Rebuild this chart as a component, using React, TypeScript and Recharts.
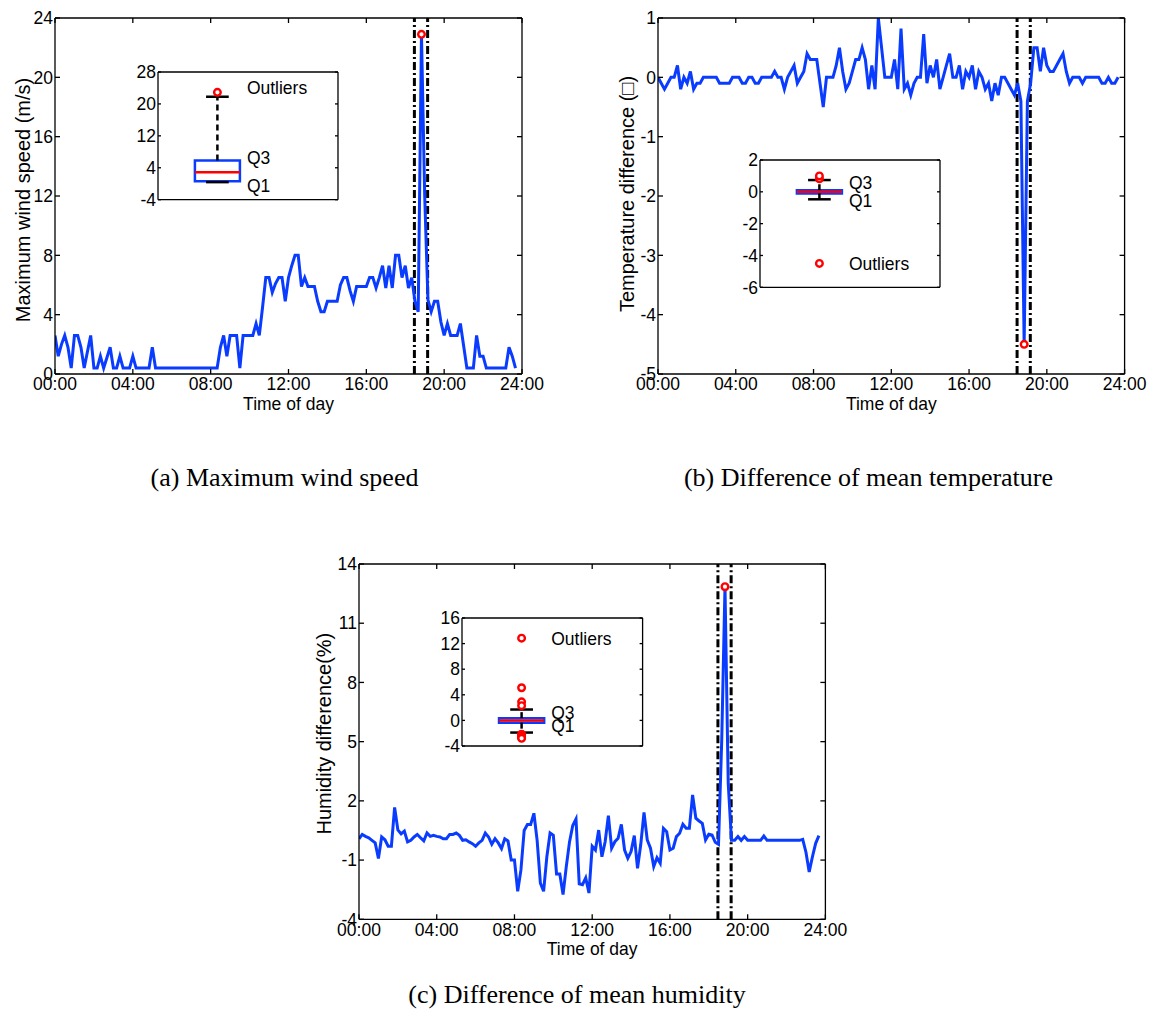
import React from "react";
import { ComposedChart, Line, XAxis, YAxis, ReferenceLine, ReferenceDot, ReferenceArea } from "recharts";

const SANS = '"Liberation Sans", Arial, sans-serif';
const SERIF = '"Liberation Serif", "Times New Roman", serif';
const BLUE = "#0a3cff";
const RED = "#ff0000";
const FS = 17.5;

// time axis (hours), one sample every 10 minutes
const hourTicks = [0, 4, 8, 12, 16, 20, 24];
const eventWindow = [18.47, 19.15];

// (a) maximum wind speed, m/s
const windSpeed = [
  2.6, 1.2, 2.0, 2.6, 1.8, 0.4, 2.6, 2.6, 1.8, 0.4,
  1.5, 2.6, 0.4, 0.4, 1.2, 0.4, 1.1, 1.8, 0.4, 0.4,
  1.2, 0.4, 0.4, 0.4, 1.2, 0.4, 0.4, 0.4, 0.4, 0.4,
  1.8, 0.4, 0.4, 0.4, 0.4, 0.4, 0.4, 0.4, 0.4, 0.4,
  0.4, 0.4, 0.4, 0.4, 0.4, 0.4, 0.4, 0.4, 0.4, 0.4,
  0.4, 1.8, 2.6, 1.2, 2.6, 2.6, 2.6, 0.4, 2.6, 2.6,
  2.6, 2.6, 3.4, 2.6, 4.5, 6.5, 6.5, 5.5, 6.1, 6.5,
  6.5, 4.9, 6.5, 7.3, 8.0, 8.0, 5.9, 6.5, 5.9, 5.9,
  5.9, 4.9, 4.2, 4.2, 4.9, 4.9, 4.9, 4.9, 6.0, 6.5,
  6.5, 5.6, 4.9, 5.9, 5.9, 5.9, 5.9, 6.5, 6.5, 5.8,
  6.5, 7.3, 5.8, 7.3, 5.8, 8.0, 8.0, 6.5, 7.3, 5.8,
  6.5, 4.9, 4.2, 22.9, 12.0, 5.0, 4.2, 4.9, 4.9, 3.5,
  2.6, 3.4, 2.6, 2.6, 2.6, 3.4, 1.9, 0.4, 0.4, 0.4,
  2.6, 1.2, 1.2, 0.4, 0.4, 0.4, 0.4, 0.4, 0.4, 0.4,
  1.8, 1.2, 0.4,
];

// (b) difference of mean temperature
const tempDiff = [
  0, -0.1, -0.2, -0.1, 0, 0, 0.2, -0.2, 0, -0.1,
  0.1, -0.2, -0.1, -0.1, 0, 0, 0, 0, 0, -0.1,
  -0.1, -0.1, -0.1, 0, 0, 0, -0.1, -0.1, 0, 0,
  -0.1, -0.1, 0, 0, 0, 0, 0.1, 0, 0, -0.2,
  0, 0.1, 0.2, -0.1, 0, 0.1, 0.4, 0.3, 0.3, 0.3,
  -0.1, -0.5, 0, 0, 0, 0.2, 0.5, 0.1, -0.2, -0.1,
  0.1, 0.3, 0.3, 0.5, 0.3, -0.2, 0.2, -0.2, 1.0, 0.5,
  0, 0, 0, 0.3, -0.2, 0.82, -0.2, -0.1, -0.3, -0.1,
  0, 0, 0.73, -0.1, 0.2, 0, 0.3, -0.2, 0, 0.2,
  0.4, 0, 0, 0.2, -0.2, 0.1, 0, 0.2, -0.2, 0.1,
  0, -0.2, -0.1, -0.4, -0.1, -0.3, 0, 0, -0.1, -0.2,
  -0.3, -0.1, -0.4, -4.5, -0.4, -0.1, 0.5, 0.5, 0.1, 0.5,
  0.2, 0.1, 0.1, 0.2, 0.3, 0.4, 0.1, -0.1, 0, 0,
  0, -0.1, 0, 0, 0, 0, 0, -0.1, -0.1, 0,
  -0.1, -0.1, 0,
];

// (c) difference of mean humidity, %
const humidDiff = [
  0.08, 0.3, 0.2, 0.13, 0, -0.13, -0.92, 0.17, 0.03, -0.3,
  -0.3, 1.67, 0.53, 0.33, 0.47, -0.08, 0, 0.17, 0.3, 0.13,
  -0.03, 0.37, 0.2, 0.25, 0.2, 0.17, 0.08, 0.08, 0.3, 0.3,
  0.37, 0.25, 0, 0.03, -0.08, -0.17, -0.3, -0.13, 0, 0.37,
  0.17, -0.2, 0.08, -0.13, -0.42, 0.08, -0.03, -1, -1, -2.58,
  -1.5, 0.5, 0.8, 0.8, 1.37, 0, -2.17, -2.58, -0.83, 0.37,
  0.25, -1.7, -1.7, -2.75, -1.33, -0.08, 0.75, 1.08, -2.2, -2.25,
  -1.9, -2.67, -0.3, -0.49, 0.52, -0.83, -0.07, 1.25, -0.4, -0.07,
  0.1, 0.81, -0.49, -0.91, -0.57, 0.24, -1.42, -0.2, 1.42, 0.02,
  -0.4, -1.33, -0.88, -1.16, 0.61, 0.44, -0.49, -0.4, 0.19, 0.36,
  0.81, 0.61, 0.61, 2.3, 1.12, 0.98, 0.86, 0.02, 0.31, 0.27,
  -0.1, -0.2, 5.1, 12.85, 2.9, 0, 0, 0.19, 0, 0.19,
  0, 0, 0, 0, 0, 0.22, 0, 0, 0, 0,
  0, 0, 0, 0, 0, 0, 0, 0.05, -0.6, -1.6,
  -0.83, -0.15, 0.24,
];

const windTicks = [0, 4, 8, 12, 16, 20, 24];
const tempTicks = [-5, -4, -3, -2, -1, 0, 1];
const humidTicks = [-4, -1, 2, 5, 8, 11, 14];

// boxplot stats: [lower whisker, Q1, median, Q3, upper whisker]
const windBox = [0.4, 0.6, 2.85, 5.85, 21.8];
const windOutliers = [22.9];
const windInsetTicks = [-4, 4, 12, 20, 28];

const tempBox = [-0.47, -0.1, 0, 0.1, 0.74];
const tempOutliers = [0.82, 1.0, -4.5];
const tempInsetTicks = [-6, -4, -2, 0, 2];

const humidBox = [-1.9, -0.35, 0, 0.35, 1.7];
const humidOutliers = [12.85, 5.1, 2.9, 2.3, -2.17, -2.25, -2.4, -2.58, -2.68, -2.8];
const humidInsetTicks = [-4, 0, 4, 8, 12, 16];

const fmtHour = (h: number) => `${String(h).padStart(2, "0")}:00`;
const blank = () => "";
const tickStyle = { fill: "#000", fontSize: FS, fontFamily: SANS };

const PAD = { l: 70, t: 15, r: 35, b: 55 };

function MainPanel({ x, y, w, h, values, yDomain, yTicks, yLabel, yLabelGap, yLabelShift }: any) {
  const data = values.map((v: number, i: number) => ({ t: i / 6, v }));
  // the flagged point is the one furthest from zero
  const peak = values.reduce((best: number, v: number, i: number) => (Math.abs(v) > Math.abs(values[best]) ? i : best), 0);

  return (
    <div style={{ position: "absolute", left: x - PAD.l, top: y - PAD.t }}>
      <ComposedChart width={w + PAD.l + PAD.r} height={h + PAD.t + PAD.b} data={data} margin={{ top: PAD.t - 1, right: PAD.r - 1, bottom: 0, left: 0 }}>
        <XAxis
          dataKey="t" type="number" domain={[0, 24]} ticks={hourTicks} interval={0} allowDataOverflow
          tickFormatter={fmtHour} height={PAD.b} tickSize={-5} tickMargin={9}
          stroke="#000" strokeWidth={1.3} tick={tickStyle}
          label={(p: any) => (
            <text x={p.viewBox.x + p.viewBox.width / 2} y={p.viewBox.y + 30} textAnchor="middle" dominantBaseline="central" fontSize={FS} fontFamily={SANS} fill="#000">
              Time of day
            </text>
          )}
        />
        <XAxis xAxisId="top" orientation="top" dataKey="t" type="number" domain={[0, 24]} ticks={hourTicks} interval={0} allowDataOverflow
          height={1} tickSize={-5} tickFormatter={blank} stroke="#000" strokeWidth={1.3} />
        <YAxis
          type="number" domain={yDomain} ticks={yTicks} interval={0} allowDataOverflow width={PAD.l}
          tickSize={-5} tickMargin={7} stroke="#000" strokeWidth={1.3} tick={tickStyle}
          label={(p: any) => {
            const cx = p.viewBox.x + p.viewBox.width - yLabelGap;
            const cy = p.viewBox.y + p.viewBox.height / 2 + yLabelShift;
            return (
              <text x={cx} y={cy} transform={`rotate(-90, ${cx}, ${cy})`} textAnchor="middle" dominantBaseline="central" fontSize={20} fontFamily={SANS} fill="#000">
                {yLabel}
              </text>
            );
          }}
        />
        <YAxis yAxisId="right" orientation="right" type="number" domain={yDomain} ticks={yTicks} interval={0} allowDataOverflow
          width={1} tickSize={-5} tickFormatter={blank} stroke="#000" strokeWidth={1.3} />
        {eventWindow.map((t) => (
          <ReferenceLine key={t} x={t} stroke="#000" strokeWidth={3} strokeDasharray="8 3 2 3" />
        ))}
        <Line dataKey="v" type="linear" stroke={BLUE} strokeWidth={3} dot={false} isAnimationActive={false} />
        <ReferenceDot x={data[peak].t} y={values[peak]} r={3.3} fill="#fff" stroke={RED} strokeWidth={2.4} />
      </ComposedChart>
    </div>
  );
}

const IPAD = { l: 42, t: 12, r: 12, b: 12 };
const BOX_X = 0.33;
const BOX_HALF = 0.125;
const CAP_HALF = 0.063;
const TEXT_X = 0.494;

const boxText = (text: string, dy: number) => (p: any) => (
  <text x={p.viewBox.x} y={p.viewBox.y + dy} dominantBaseline="central" fontSize={FS} fontFamily={SANS} fill="#000">
    {text}
  </text>
);

function BoxInset({ x, y, w, h, stats, outliers, yDomain, yTicks, dys }: any) {
  const [lo, q1, med, q3, hi] = stats;
  const pts = outliers.map((v: number) => ({ x: BOX_X, y: v }));
  const far = outliers.reduce((a: number, b: number) => (Math.abs(b - med) > Math.abs(a - med) ? b : a));

  return (
    <div style={{ position: "absolute", left: x - IPAD.l, top: y - IPAD.t }}>
      <ComposedChart width={w + IPAD.l + IPAD.r} height={h + IPAD.t + IPAD.b} data={pts} margin={{ top: IPAD.t - 1, right: IPAD.r - 1, bottom: IPAD.b - 1, left: 0 }}>
        <XAxis dataKey="x" type="number" domain={[0, 1]} allowDataOverflow height={1} tickLine={false} tickFormatter={blank} stroke="#000" strokeWidth={1.3} />
        <XAxis xAxisId="top" orientation="top" dataKey="x" type="number" domain={[0, 1]} allowDataOverflow height={1} tickLine={false} tickFormatter={blank} stroke="#000" strokeWidth={1.3} />
        <YAxis dataKey="y" type="number" domain={yDomain} ticks={yTicks} interval={0} allowDataOverflow width={IPAD.l}
          tickSize={-3} tickMargin={5} stroke="#000" strokeWidth={1.3} tick={tickStyle} />
        <YAxis yAxisId="right" orientation="right" type="number" domain={yDomain} ticks={yTicks} interval={0} allowDataOverflow
          width={1} tickSize={-3} tickFormatter={blank} stroke="#000" strokeWidth={1.3} />

        <ReferenceLine segment={[{ x: BOX_X, y: q3 }, { x: BOX_X, y: hi }]} stroke="#000" strokeWidth={2.5} strokeDasharray="6 4" />
        <ReferenceLine segment={[{ x: BOX_X, y: q1 }, { x: BOX_X, y: lo }]} stroke="#000" strokeWidth={2.5} strokeDasharray="6 4" />
        <ReferenceLine segment={[{ x: BOX_X - CAP_HALF, y: hi }, { x: BOX_X + CAP_HALF, y: hi }]} stroke="#000" strokeWidth={2.5} />
        <ReferenceLine segment={[{ x: BOX_X - CAP_HALF, y: lo }, { x: BOX_X + CAP_HALF, y: lo }]} stroke="#000" strokeWidth={2.5} />
        <ReferenceArea x1={BOX_X - BOX_HALF} x2={BOX_X + BOX_HALF} y1={q1} y2={q3} fill="none" fillOpacity={0} stroke={BLUE} strokeWidth={2.5} />
        <ReferenceLine segment={[{ x: BOX_X - BOX_HALF, y: med }, { x: BOX_X + BOX_HALF, y: med }]} stroke={RED} strokeWidth={2.5} />
        {pts.map((pt: any, i: number) => (
          <ReferenceDot key={i} x={pt.x} y={pt.y} r={3.3} fill="#fff" stroke={RED} strokeWidth={2.4} />
        ))}

        <ReferenceDot x={TEXT_X} y={q3} r={0} fill="none" stroke="none" label={boxText("Q3", dys[0])} />
        <ReferenceDot x={TEXT_X} y={q1} r={0} fill="none" stroke="none" label={boxText("Q1", dys[1])} />
        <ReferenceDot x={TEXT_X} y={far} r={0} fill="none" stroke="none" label={boxText("Outliers", dys[2])} />
      </ComposedChart>
    </div>
  );
}

function Caption({ cx, baseline, children }: any) {
  return (
    <div style={{ position: "absolute", left: cx - 300, width: 600, top: baseline - 21, textAlign: "center", fontFamily: SERIF, fontSize: 26, lineHeight: "24px", color: "#000", whiteSpace: "nowrap" }}>
      {children}
    </div>
  );
}

export default function App() {
  return (
    <div style={{ position: "absolute", left: 0, top: 0, width: 1150, height: 1013, background: "#fff", overflow: "hidden" }}>
      <MainPanel x={55} y={18} w={467} h={356} values={windSpeed} yDomain={[0, 24]} yTicks={windTicks}
        yLabel="Maximum wind speed (m/s)" yLabelGap={32} yLabelShift={4} />
      <BoxInset x={157.7} y={72.3} w={180} h={127.7} stats={windBox} outliers={windOutliers}
        yDomain={[-4, 28]} yTicks={windInsetTicks} dys={[-2.7, 4.4, -4.3]} />

      <MainPanel x={657.7} y={18} w={466.6} h={356} values={tempDiff} yDomain={[-5, 1]} yTicks={tempTicks}
        yLabel={"Temperature difference (\u25A1)"} yLabelGap={31} yLabelShift={-2} />
      <BoxInset x={760} y={160} w={180} h={127.3} stats={tempBox} outliers={tempOutliers}
        yDomain={[-6, 2]} yTicks={tempInsetTicks} dys={[-7, 7.3, 1]} />

      <MainPanel x={359.3} y={564} w={466.4} h={355.3} values={humidDiff} yDomain={[-4, 14]} yTicks={humidTicks}
        yLabel="Humidity difference(%)" yLabelGap={35} yLabelShift={-8} />
      <BoxInset x={461.7} y={617.5} w={180.6} h={128} stats={humidBox} outliers={humidOutliers}
        yDomain={[-4, 16]} yTicks={humidInsetTicks} dys={[-5.4, 3.5, 0.6]} />

      <Caption cx={284.5} baseline={487}>(a) Maximum wind speed</Caption>
      <Caption cx={868.5} baseline={487}>(b) Difference of mean temperature</Caption>
      <Caption cx={577} baseline={1004}>(c) Difference of mean humidity</Caption>
    </div>
  );
}
